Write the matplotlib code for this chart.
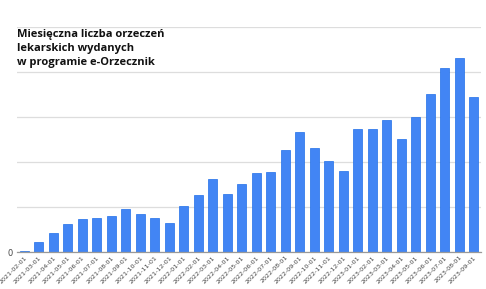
import numpy as np
import matplotlib
matplotlib.use('Agg')
import matplotlib.pyplot as plt

months = ['2021-02-01', '2021-03-01', '2021-04-01', '2021-05-01', '2021-06-01', '2021-07-01',
          '2021-08-01', '2021-09-01', '2021-10-01', '2021-11-01', '2021-12-01', '2022-01-01',
          '2022-02-01', '2022-03-01', '2022-04-01', '2022-05-01', '2022-06-01', '2022-07-01',
          '2022-08-01', '2022-09-01', '2022-10-01', '2022-11-01', '2022-12-01', '2023-01-01',
          '2023-02-01', '2023-03-01', '2023-04-01', '2023-05-01', '2023-06-01', '2023-07-01',
          '2023-08-01', '2023-09-01']
counts = [220, 2290, 4160, 6220, 7270, 7560, 8070, 9490, 8440, 7560, 6440, 10220,
          12600, 16160, 12960, 15110, 17560, 17780, 22670, 26670, 23110, 20160, 18000, 27270,
          27400, 29400, 25110, 29930, 35040, 40960, 43110, 34440]
grid_step = 10000
title = 'Miesięczna liczba orzeczeń\nlekarskich wydanych\nw programie e-Orzecznik'

fig = plt.figure(figsize=(4.86, 2.89), dpi=100)
ax = fig.add_axes([0.035, 0.128, 0.955, 0.779])

x = np.arange(len(months))
ax.bar(x, counts, width=0.62, color='#4285f4', edgecolor='#1f6fe8', linewidth=0.5, zorder=3)

ax.set_xlim(-0.5, len(months) - 0.5)
ax.set_ylim(0, 5 * grid_step)
ax.set_yticks(np.arange(0, 5 * grid_step + 1, grid_step))
ax.set_yticklabels(['0', '', '', '', '', ''])
ax.grid(axis='y', color='#dddddd', lw=0.9, zorder=0)
ax.tick_params(axis='y', length=0, labelsize=6, labelcolor='#444444', pad=3)

ax.set_xticks(x)
ax.set_xticklabels(months, rotation=45, ha='right', rotation_mode='anchor',
                   fontsize=4.6, color='#444444')
ax.tick_params(axis='x', length=0, pad=2)

for s in ['top', 'right', 'left']:
    ax.spines[s].set_visible(False)
ax.spines['bottom'].set_color('#999999')
ax.spines['bottom'].set_linewidth(0.9)
ax.spines['bottom'].set_zorder(4)

fig.text(0.035, 0.9, title, fontsize=8.0, fontweight='bold', family='Open Sans',
         va='top', ha='left', linespacing=1.38, color='#111111')

fig.savefig('out.png', dpi=100)
